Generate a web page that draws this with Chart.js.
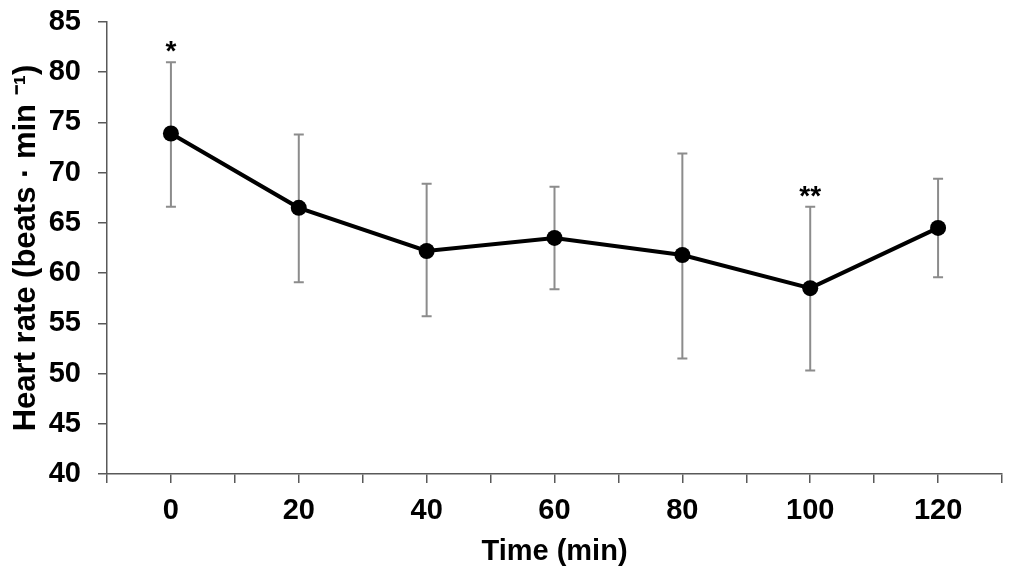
<!DOCTYPE html>
<html>
<head>
<meta charset="utf-8">
<script src="https://cdn.jsdelivr.net/npm/chart.js@4"></script>
<style>
html, body { margin: 0; padding: 0; background: #fff; }
</style>
</head>
<body>
<canvas id="chart" width="1013" height="577"></canvas>
<script>
// Temps (min) et étiquettes de l'axe x
const temps = [0, 20, 40, 60, 80, 100, 120];
// Fréquence cardiaque moyenne
const moyennes = [73.9, 66.5, 62.2, 63.5, 61.8, 58.5, 64.5];
// Bornes des barres d'erreur
const hautErreur = [81.0, 73.8, 68.9, 68.6, 71.9, 66.6, 69.4];
const basErreur = [66.6, 59.1, 55.7, 58.4, 51.5, 50.3, 59.6];
// Marques de significativité
const etoiles = ['*', '', '', '', '', '**', ''];

const police = "'Liberation Sans', Arial, sans-serif";
const gris = '#595959';

// Barres d'erreur (sous la courbe) et étoiles (au-dessus)
const barresErreur = {
    id: 'barresErreur',
    beforeDatasetsDraw(chart) {
        const c = chart.ctx, x = chart.scales.x, y = chart.scales.y;
        c.save();
        c.strokeStyle = '#8c8c8c';
        c.lineWidth = 2;
        temps.forEach((t, i) => {
            const px = x.getPixelForValue(t);
            const haut = y.getPixelForValue(hautErreur[i]);
            const bas = y.getPixelForValue(basErreur[i]);
            c.beginPath();
            c.moveTo(px, haut); c.lineTo(px, bas);
            c.moveTo(px - 5, haut); c.lineTo(px + 5, haut);
            c.moveTo(px - 5, bas); c.lineTo(px + 5, bas);
            c.stroke();
        });
        c.restore();
    },
    afterDatasetsDraw(chart) {
        const c = chart.ctx, x = chart.scales.x, y = chart.scales.y;
        c.save();
        c.fillStyle = '#000';
        c.font = 'bold 28px ' + police;
        c.textAlign = 'center';
        c.textBaseline = 'middle';
        temps.forEach((t, i) => {
            if (!etoiles[i]) return;
            c.fillText(etoiles[i], x.getPixelForValue(t), y.getPixelForValue(hautErreur[i]) - 10);
        });
        c.restore();
    }
};

const ctx = document.getElementById('chart');

new Chart(ctx, {
    type: 'line',
    data: {
        datasets: [{
            data: temps.map((t, i) => ({ x: t, y: moyennes[i] })),
            borderColor: '#000',
            backgroundColor: '#000',
            borderWidth: 4,
            pointRadius: 8,
            pointBackgroundColor: '#000',
            pointBorderWidth: 0,
            tension: 0,
            clip: false
        }]
    },
    options: {
        responsive: false,
        animation: false,
        layout: { padding: { top: 22, right: 10, left: 0, bottom: 0 } },
        plugins: {
            legend: { display: false },
            tooltip: { enabled: false }
        },
        scales: {
            x: {
                type: 'linear',
                min: -10,
                max: 130,
                afterFit: (s) => { s.height = 103; },
                ticks: {
                    stepSize: 10,
                    autoSkip: false,
                    maxRotation: 0,
                    padding: 11,
                    color: '#000',
                    font: { family: police, size: 29, weight: 'bold' },
                    callback: (v) => temps.includes(v) ? String(v) : ''
                },
                grid: { drawOnChartArea: false, tickLength: 9, color: gris, lineWidth: 1.5 },
                border: { color: gris, width: 1.5 },
                title: {
                    display: true,
                    text: 'Time (min)',
                    color: '#000',
                    font: { family: police, size: 29, weight: 'bold' },
                    padding: { top: 0, bottom: 8 }
                }
            },
            y: {
                min: 40,
                max: 85,
                afterFit: (s) => { s.width = 107; s.paddingTop = 0; s.paddingBottom = 0; },
                ticks: {
                    stepSize: 5,
                    padding: 17,
                    color: '#000',
                    font: { family: police, size: 29, weight: 'bold' }
                },
                grid: { drawOnChartArea: false, tickLength: 9, color: gris, lineWidth: 1.5 },
                border: { color: gris, width: 1.5 },
                title: {
                    display: true,
                    text: 'Heart rate (beats · min ⁻¹)',
                    color: '#000',
                    font: { family: police, size: 31, weight: 'bold' },
                    padding: { top: 8, bottom: 0 }
                }
            }
        }
    },
    plugins: [barresErreur]
});
</script>
</body>
</html>
